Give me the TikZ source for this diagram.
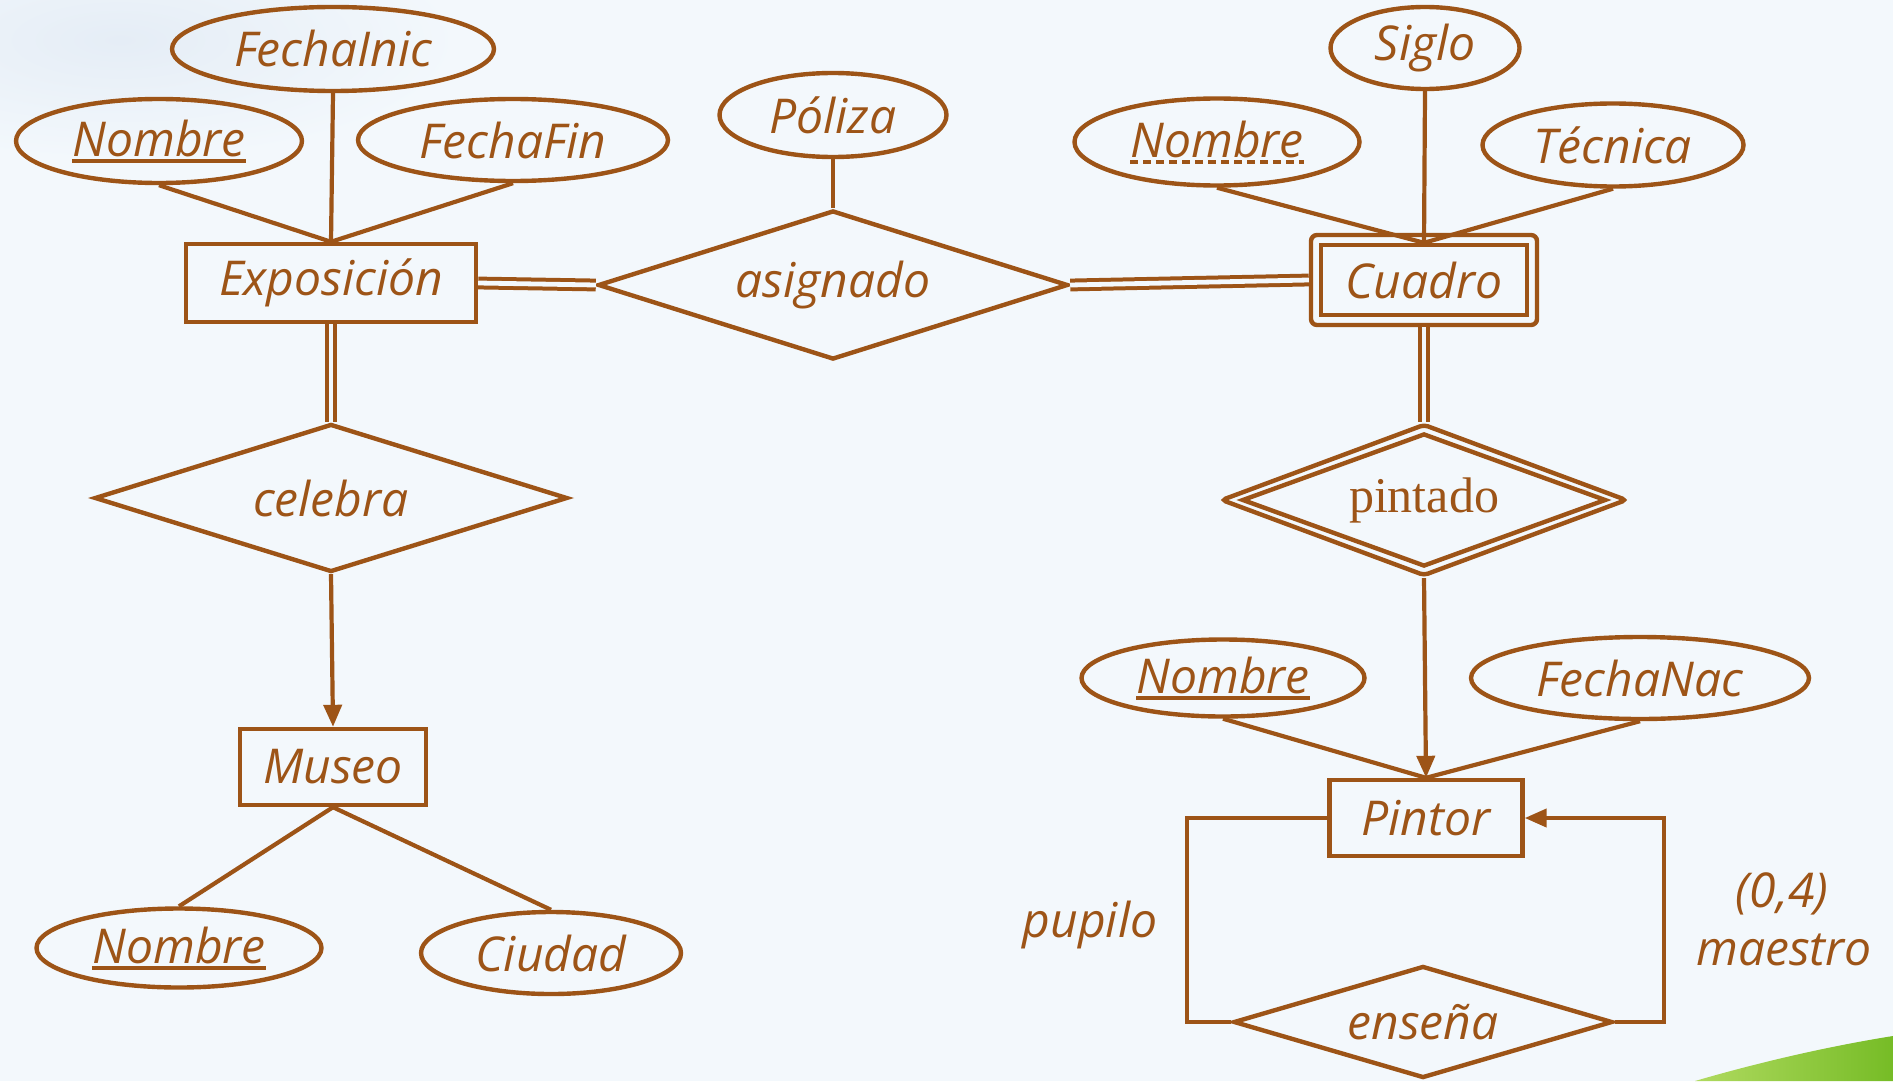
\documentclass[tikz,border=0pt]{standalone}
\usepackage{fontspec}
\setmainfont{Open Sans}
\newfontfamily\relserif{Liberation Serif}
\usetikzlibrary{shapes.geometric,arrows.meta}
\definecolor{ink}{RGB}{157,84,23}
\definecolor{bg}{RGB}{243,248,252}
\definecolor{haze}{RGB}{229,237,246}
\definecolor{grassA}{RGB}{118,188,38}
\definecolor{grassB}{RGB}{176,218,96}

\begin{document}
\begin{tikzpicture}[x=0.5pt,y=-0.5pt,
  every node/.style={text=ink, font=\fontsize{24}{28}\selectfont\itshape},
  ent/.style={draw=ink, line width=2.2pt, rectangle, inner sep=0pt},
  attr/.style={draw=ink, line width=2.2pt, ellipse, inner sep=0pt},
  rel/.style={draw=ink, line width=2.2pt, diamond, inner sep=0pt},
  link/.style={draw=ink, line width=2.1pt},
  dbl/.style={draw=ink, line width=2pt, double=bg, double distance=2.4pt},
  arr/.style={link, -{Triangle[length=11pt,width=9pt]}},
  keyline/.style={draw=ink, line width=2pt},
  txt/.style={inner sep=0pt},
]
% canvas
\fill[bg] (0,0) rectangle (1893,1081);
\useasboundingbox (0,0) rectangle (1893,1081);
\shade[inner color=haze, outer color=bg] (120,40) ellipse [x radius=340, y radius=120];
\shade[left color=grassB, right color=grassA]
  (1695,1081) .. controls (1760,1062) and (1830,1046) .. (1893,1036) -- (1893,1081) -- cycle;

% ---------- Exposicion side ----------
\node[ent, minimum width=145pt, minimum height=39pt] (expo) at (331,283) {Exposición};
\node[attr, minimum width=161pt, minimum height=42pt] (finic) at (333,49) {FechaInic};
\node[attr, minimum width=143pt, minimum height=42pt] (nomE) at (159,141) {};
\node[txt] (nomEt) at (159,138) {Nombre};
\draw[keyline] ([yshift=-2.5pt]nomEt.base west) -- ([yshift=-2.5pt]nomEt.base east);
\node[attr, minimum width=155pt, minimum height=41pt] (ffin) at (513,140) {FechaFin};

\node[rel, shape aspect=3.15, minimum width=235pt, minimum height=74.5pt] (asig) at (833,285) {asignado};
\node[attr, minimum width=113.5pt, minimum height=42pt] (poliza) at (833,115) {Póliza};

\node[rel, shape aspect=3.2, minimum width=236.5pt, minimum height=74pt] (celebra) at (331,498) {celebra};
\node[ent, minimum width=93pt, minimum height=38pt] (museo) at (333,767) {Museo};
\node[attr, minimum width=142.5pt, minimum height=39.5pt] (nomM) at (179,948) {};
\node[txt] (nomMt) at (179,945) {Nombre};
\draw[keyline] ([yshift=-2.5pt]nomMt.base west) -- ([yshift=-2.5pt]nomMt.base east);
\node[attr, minimum width=130pt, minimum height=41pt] (ciudad) at (551,953) {Ciudad};

% ---------- Cuadro side ----------
\node[ent, rounded corners=3pt, minimum width=113pt, minimum height=45pt] (cuadroO) at (1424,280) {};
\node[ent, minimum width=103pt, minimum height=35pt] (cuadro) at (1424,280) {Cuadro};
\node[attr, minimum width=94.5pt, minimum height=41pt] (siglo) at (1425,48) {Siglo};
\node[attr, minimum width=142.5pt, minimum height=43.5pt] (nomC) at (1217,142) {};
\node[txt] (nomCt) at (1217,139) {Nombre};
\draw[keyline, dash pattern=on 4pt off 2.5pt] ([yshift=-2.5pt]nomCt.base west) -- ([yshift=-2.5pt]nomCt.base east);
\node[attr, minimum width=130.5pt, minimum height=41.5pt] (tecnica) at (1613,145) {Técnica};

\node[rel, rounded corners=2pt, shape aspect=2.65, minimum width=203pt, minimum height=76pt] (pintO) at (1424,500) {};
\node[rel, shape aspect=2.7, minimum width=182pt, minimum height=66.5pt,
      font=\fontsize{25}{30}\selectfont\relserif] (pintado) at (1424,500) {pintado};

\node[ent, minimum width=96.5pt, minimum height=38pt] (pintor) at (1426,818) {Pintor};
\node[attr, minimum width=141.5pt, minimum height=38.5pt] (nomP) at (1223,678) {};
\node[txt] (nomPt) at (1223,675) {Nombre};
\draw[keyline] ([yshift=-2.5pt]nomPt.base west) -- ([yshift=-2.5pt]nomPt.base east);
\node[attr, minimum width=169pt, minimum height=41pt] (fnac) at (1640,678) {FechaNac};

\node[rel, shape aspect=3.4, minimum width=189.5pt, minimum height=56pt] (ensena) at (1423,1022) {enseña};

% role labels
\node (pupilo) at (1090,925) {pupilo};
\node (card) at (1782,894) {(0,4)};
\node (maestro) at (1784,950) {maestro};

% ---------- connectors ----------
\draw[link] (nomE.south) -- (expo.north);
\draw[link] (finic.south) -- (expo.north);
\draw[link] (ffin.south) -- (expo.north);
\draw[link] (poliza.south) -- (asig.north);
\draw[dbl] (expo.east) -- (asig.west);
\draw[dbl] (asig.east) -- (cuadroO.west);
\draw[dbl] (expo.south) -- (celebra.north);
\draw[arr] (celebra.south) -- (museo.north);
\draw[link] (museo.south) -- (nomM.north);
\draw[link] (museo.south) -- (ciudad.north);

\draw[link] (nomC.south) -- (cuadro.north);
\draw[link] (siglo.south) -- (cuadro.north);
\draw[link] (tecnica.south) -- (cuadro.north);
\draw[dbl] (cuadroO.south) -- (pintO.north);
\draw[arr] (pintO.south) -- (pintor.north);
\draw[link] (nomP.south) -- (pintor.north);
\draw[link] (fnac.south) -- (pintor.north);

\coordinate (loopL) at (1187,1022);
\coordinate (loopR) at (1664,1022);
\draw[link] (pintor.west) -| (loopL) -- (ensena.west);
\draw[arr] (ensena.east) -- (loopR) |- (pintor.east);
\end{tikzpicture}
\end{document}
